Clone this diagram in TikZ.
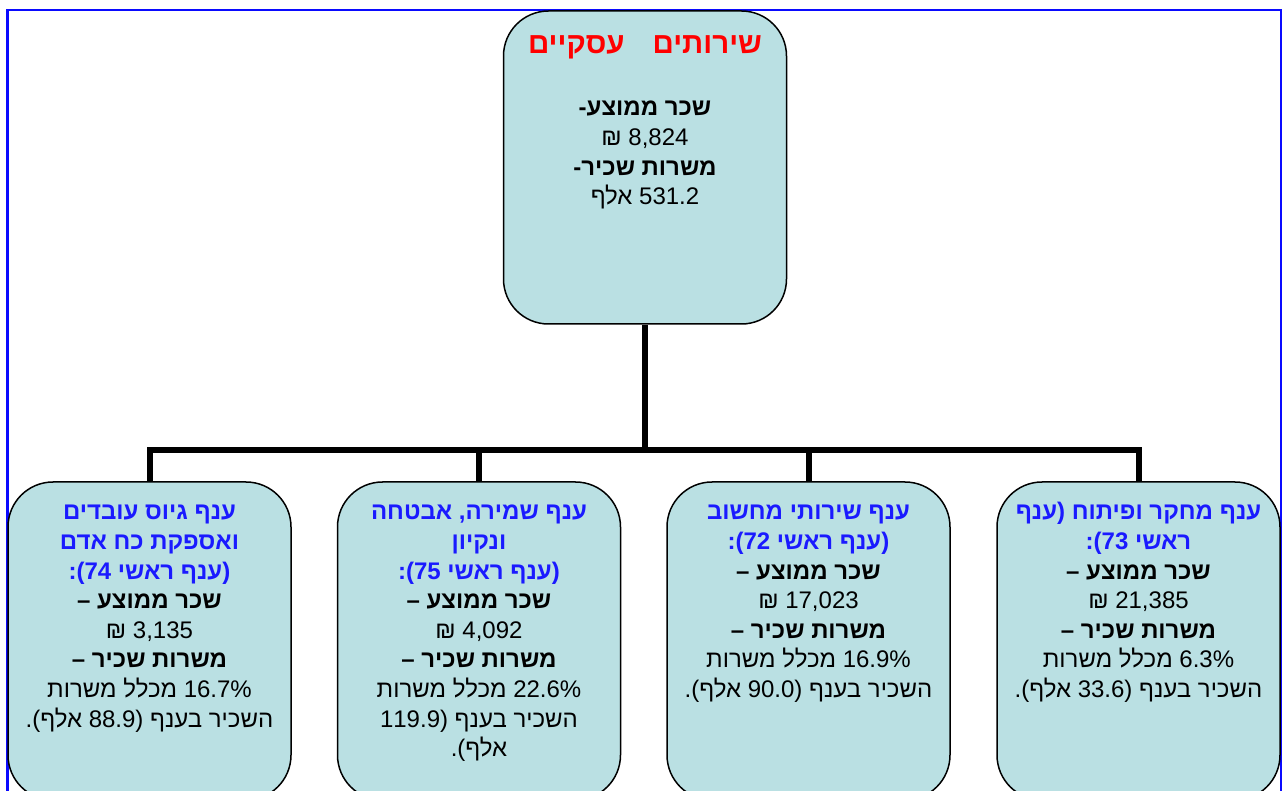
\documentclass[tikz,border=0pt]{standalone}
\usepackage{fontspec}
\setmainfont[Script=Hebrew]{Liberation Sans}
\TeXXeTstate=1
\definecolor{boxfill}{HTML}{BAE0E3}
\definecolor{frameblue}{HTML}{0A0AFF}
\definecolor{headblue}{HTML}{1A1AFF}
\definecolor{titlered}{HTML}{FF0000}
\newcommand\RL[1]{\strut\beginR #1\endR}
\newcommand\HD[1]{{\color{headblue}\bfseries\strut\beginR #1\endR}}
\newcommand\BD[1]{{\bfseries\strut\beginR #1\endR}}
\begin{document}
\begin{tikzpicture}[x=1pt,y=-1pt,
  box/.style={draw=black, line width=1.5pt, fill=boxfill, rounded corners=45pt,
              minimum width=283pt, inner sep=0pt},
  conn/.style={line width=6pt, draw=black, line join=miter},
  txt/.style={align=center, inner sep=0pt, anchor=north,
              font=\fontsize{24}{29.6}\selectfont},
  ttlstyle/.style={inner sep=0pt, text=titlered,
              font=\fontsize{29.5}{34}\selectfont\bfseries},
]
\useasboundingbox (0,0) rectangle (1283,791);
\clip (0,0) rectangle (1283,791);
\draw[frameblue, line width=2.5pt] (7.5,10) rectangle (1281,830);

\node[box, minimum height=313pt] (top) at (645,167.5) {};
\node[box, minimum height=318pt] (b1) at (149.5,641) {};
\node[box, minimum height=318pt] (b2) at (479,641) {};
\node[box, minimum height=318pt] (b3) at (808.5,641) {};
\node[box, minimum height=318pt] (b4) at (1138.5,641) {};

\coordinate (bus) at (645,450);
\draw[conn] (top.south) -- (bus);
\draw[conn] (bus) -| (b1.north);
\draw[conn] (bus) -| (b2.north);
\draw[conn] (bus) -| (b3.north);
\draw[conn] (bus) -| (b4.north);

\node[ttlstyle] (ttl) at (645,47) {\beginR שירותים\hspace{0.95em}עסקיים\endR};
\node[txt] (topt) at (645,95) {\BD{שכר ממוצע-}\\ \RL{8,824 ₪}\\ \BD{משרות שכיר-}\\ \RL{531.2 אלף}};

\node[txt] (t1) at (149.5,499) {\HD{ענף גיוס עובדים}\\ \HD{ואספקת כח אדם}\\ \HD{(ענף ראשי 74):}\\
  \BD{שכר ממוצע –}\\ \RL{3,135 ₪}\\ \BD{משרות שכיר –}\\ \RL{16.7\% מכלל משרות}\\ \RL{השכיר בענף (88.9 אלף).}};
\node[txt] (t2) at (479,499) {\HD{ענף שמירה, אבטחה}\\ \HD{ונקיון}\\ \HD{(ענף ראשי 75):}\\
  \BD{שכר ממוצע –}\\ \RL{4,092 ₪}\\ \BD{משרות שכיר –}\\ \RL{22.6\% מכלל משרות}\\ \RL{השכיר בענף (119.9}\\ \RL{אלף).}};
\node[txt] (t3) at (808.5,499) {\HD{ענף שירותי מחשוב}\\ \HD{(ענף ראשי 72):}\\
  \BD{שכר ממוצע –}\\ \RL{17,023 ₪}\\ \BD{משרות שכיר –}\\ \RL{16.9\% מכלל משרות}\\ \RL{השכיר בענף (90.0 אלף).}};
\node[txt] (t4) at (1138.5,499) {\HD{ענף מחקר ופיתוח (ענף}\\ \HD{ראשי 73):}\\
  \BD{שכר ממוצע –}\\ \RL{21,385 ₪}\\ \BD{משרות שכיר –}\\ \RL{6.3\% מכלל משרות}\\ \RL{השכיר בענף (33.6 אלף).}};
\end{tikzpicture}
\end{document}
